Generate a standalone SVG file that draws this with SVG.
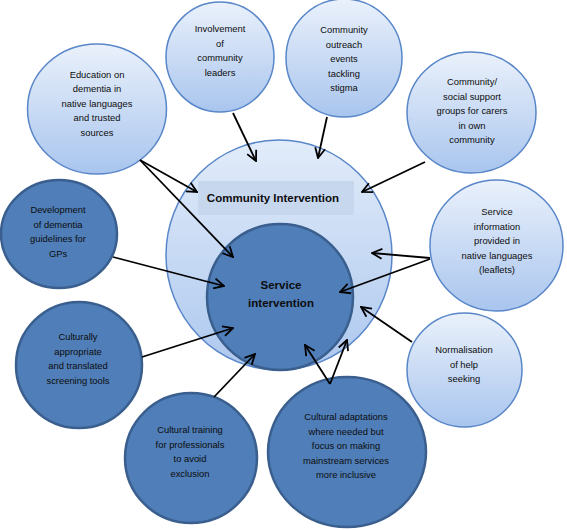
<svg xmlns="http://www.w3.org/2000/svg" width="567" height="530" viewBox="0 0 567 530">
<defs>
<linearGradient id="gl" x1="0" y1="0" x2="0" y2="1">
<stop offset="0" stop-color="#eaf1fb"/>
<stop offset="1" stop-color="#a9c5ee"/>
</linearGradient>
<linearGradient id="gc" x1="0" y1="0" x2="0" y2="1">
<stop offset="0" stop-color="#e2ecfa"/>
<stop offset="1" stop-color="#adc8ee"/>
</linearGradient>
<marker id="ah" viewBox="0 0 12 12" refX="11" refY="6" markerWidth="12" markerHeight="12" markerUnits="userSpaceOnUse" orient="auto">
<path d="M1,1 L11,6 L1,11" fill="none" stroke="#000" stroke-width="1.8"/>
</marker>
<style>
.light{fill:url(#gl);stroke:#5886c8;stroke-width:1.5}
.dark{fill:#4f7eb8;stroke:#3a5f8e;stroke-width:2.5}
.t{font-family:"Liberation Sans",Arial,sans-serif;font-size:9.4px;fill:#0d0d0d;text-anchor:middle}
.tb{font-family:"Liberation Sans",Arial,sans-serif;font-size:11.5px;font-weight:bold;fill:#0d0d0d;text-anchor:middle}
.c{stroke:#000;stroke-width:1.8;fill:none;marker-end:url(#ah)}
</style>
</defs>
<rect width="567" height="530" fill="#fff"/>
<g id="community">
<ellipse cx="279" cy="255" rx="113" ry="115" fill="url(#gc)" stroke="#5886c8" stroke-width="1.5"/>
<rect x="198" y="181" width="156" height="34" fill="#c7d7ee"/>
<text class="tb" x="273" y="202">Community Intervention</text>
</g>
<g id="service">
<circle cx="280" cy="297" r="73" class="dark"/>
<text class="tb" x="281" y="289">Service</text>
<text class="tb" x="281" y="307">intervention</text>
</g>
<g id="n-involvement">
<ellipse cx="220" cy="57" rx="54" ry="55" class="light"/>
<text class="t" x="220" y="32">Involvement</text>
<text class="t" x="220" y="46.5">of</text>
<text class="t" x="220" y="61">community</text>
<text class="t" x="220" y="75.5">leaders</text>
</g>
<g id="n-education">
<ellipse cx="97" cy="109" rx="69.5" ry="65" class="light"/>
<text class="t" x="97" y="77.5">Education on</text>
<text class="t" x="97" y="92">dementia in</text>
<text class="t" x="97" y="106.5">native languages</text>
<text class="t" x="97" y="121">and trusted</text>
<text class="t" x="97" y="135.5">sources</text>
</g>
<g id="n-outreach">
<ellipse cx="344" cy="58" rx="58" ry="59" class="light"/>
<text class="t" x="344" y="33">Community</text>
<text class="t" x="344" y="47.5">outreach</text>
<text class="t" x="344" y="62">events</text>
<text class="t" x="344" y="76.5">tackling</text>
<text class="t" x="344" y="91">stigma</text>
</g>
<g id="n-support">
<ellipse cx="471.5" cy="112.5" rx="64.5" ry="60.5" class="light"/>
<text class="t" x="472" y="85">Community/</text>
<text class="t" x="472" y="99.5">social support</text>
<text class="t" x="472" y="114">groups for carers</text>
<text class="t" x="472" y="128.5">in own</text>
<text class="t" x="472" y="143">community</text>
</g>
<g id="n-serviceinfo">
<ellipse cx="496.5" cy="245.5" rx="66.5" ry="65.5" class="light"/>
<text class="t" x="497" y="215">Service</text>
<text class="t" x="497" y="229.5">information</text>
<text class="t" x="497" y="244">provided in</text>
<text class="t" x="497" y="258.5">native languages</text>
<text class="t" x="497" y="273">(leaflets)</text>
</g>
<g id="n-normalisation">
<ellipse cx="464.5" cy="370" rx="57.5" ry="57" class="light"/>
<text class="t" x="464" y="353">Normalisation</text>
<text class="t" x="464" y="367.5">of help</text>
<text class="t" x="464" y="382">seeking</text>
</g>
<g id="n-adaptations">
<ellipse cx="347" cy="452" rx="79" ry="75" class="dark"/>
<text class="t" x="346" y="420">Cultural adaptations</text>
<text class="t" x="346" y="434.5">where needed but</text>
<text class="t" x="346" y="449">focus on making</text>
<text class="t" x="346" y="463.5">mainstream services</text>
<text class="t" x="346" y="478">more inclusive</text>
</g>
<g id="n-training">
<ellipse cx="191" cy="458" rx="66" ry="65" class="dark"/>
<text class="t" x="190" y="433">Cultural training</text>
<text class="t" x="190" y="447.5">for professionals</text>
<text class="t" x="190" y="462">to avoid</text>
<text class="t" x="190" y="476.5">exclusion</text>
</g>
<g id="n-screening">
<ellipse cx="79" cy="365" rx="63" ry="63" class="dark"/>
<text class="t" x="78" y="340">Culturally</text>
<text class="t" x="78" y="354.5">appropriate</text>
<text class="t" x="78" y="369">and translated</text>
<text class="t" x="78" y="383.5">screening tools</text>
</g>
<g id="n-guidelines">
<ellipse cx="59" cy="234" rx="58" ry="54" class="dark"/>
<text class="t" x="58" y="213">Development</text>
<text class="t" x="58" y="227.5">of dementia</text>
<text class="t" x="58" y="242">guidelines for</text>
<text class="t" x="58" y="256.5">GPs</text>
</g>
<g id="connectors">
<line class="c" x1="233" y1="113" x2="256" y2="161"/>
<line class="c" x1="327" y1="117" x2="318" y2="158"/>
<line class="c" x1="140" y1="160" x2="197" y2="192"/>
<line class="c" x1="140" y1="160" x2="233" y2="257"/>
<line class="c" x1="425" y1="162" x2="362" y2="192"/>
<line class="c" x1="430" y1="258" x2="372" y2="253"/>
<line class="c" x1="430" y1="259" x2="340" y2="292"/>
<line class="c" x1="113" y1="257" x2="224" y2="286"/>
<line class="c" x1="142" y1="357" x2="233" y2="328"/>
<line class="c" x1="214" y1="397" x2="255" y2="354"/>
<line class="c" x1="330" y1="384" x2="305" y2="345"/>
<line class="c" x1="330" y1="384" x2="347" y2="340"/>
<line class="c" x1="412" y1="342" x2="361" y2="307"/>
</g>
</svg>
